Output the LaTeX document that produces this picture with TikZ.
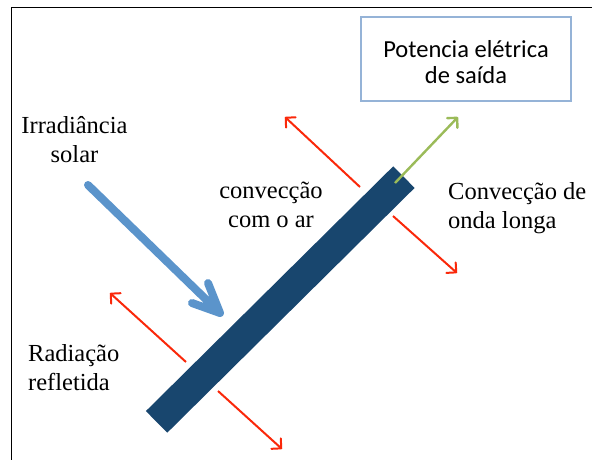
\documentclass[tikz,border=0pt]{standalone}
\usepackage{fontspec}
\setmainfont{Liberation Serif}
\newfontfamily\calibri{Carlito}
\usetikzlibrary{arrows.meta}
\definecolor{panelblue}{RGB}{24,70,110}
\definecolor{sunblue}{RGB}{91,148,203}
\definecolor{heatred}{RGB}{250,40,10}
\definecolor{powergreen}{RGB}{155,187,89}
\definecolor{boxblue}{RGB}{149,179,215}
\tikzset{
  lbl/.style={inner sep=0pt, font=\fontsize{24.5}{29}\selectfont},
  heat/.style={draw=heatred, line width=2pt, -{Straight Barb[length=7pt,width=14pt,round]}},
  power/.style={draw=powergreen, line width=2.4pt, -{Straight Barb[length=7pt,width=14pt,round]}},
  sun/.style={draw=sunblue, line width=8pt, line cap=round, line join=round},
  outbox/.style={draw=boxblue, line width=1.2pt, minimum width=210pt, minimum height=84pt, inner sep=0pt},
}
\begin{document}
\begin{tikzpicture}[x=1pt,y=-1pt]
\useasboundingbox (0,0) rectangle (592,459);
\clip (0,0) rectangle (592,459);
% frame
\draw[line width=1.6pt] (11.5,470) -- (11.5,7.5) -- (600,7.5);
% output box
\node[outbox] (out) at (466,59) {};
\node[inner sep=0pt, align=center, font=\calibri\fontsize{24.5}{26}\selectfont, anchor=base] (outtxt) at (466,83.5) {Potencia elétrica\\de saída};
% panel
\node[fill=panelblue, minimum width=348pt, minimum height=30.4pt, inner sep=0pt, rotate=44.7] (panel) at (280.25,299.5) {};
% solar irradiance arrow
\coordinate (sunS) at (88,185);
\coordinate (sunT) at (220,313);
\coordinate (sunB1) at (192,303);
\coordinate (sunB2) at (208,283);
\draw[sun] (sunS) -- (sunT) (sunB1) -- (sunT) -- (sunB2);
% red arrows
\coordinate (h1s) at (360,187); \coordinate (h1e) at (285,117);
\coordinate (h2s) at (393,216); \coordinate (h2e) at (457,273);
\coordinate (h3s) at (186,362); \coordinate (h3e) at (110,293);
\coordinate (h4s) at (218,391); \coordinate (h4e) at (282,449);
\draw[heat] (h1s) -- (h1e);
\draw[heat] (h2s) -- (h2e);
\draw[heat] (h3s) -- (h3e);
\draw[heat] (h4s) -- (h4e);
% green arrow
\coordinate (g1) at (395,183);
\coordinate (g2) at (458,117);
\draw[power] (g1) -- (g2);
% labels
\node[lbl, align=center, anchor=base] (irr) at (74.5,162) {Irradiância\\solar};
\node[lbl, align=center, anchor=base] (conv) at (271,227) {convecção\\com o ar};
\node[lbl, align=left, anchor=base west] (conv2) at (448,228) {Convecção de\\onda longa};
\node[lbl, align=left, anchor=base west] (rad) at (28,390) {Radiação\\refletida};
\end{tikzpicture}
\end{document}
